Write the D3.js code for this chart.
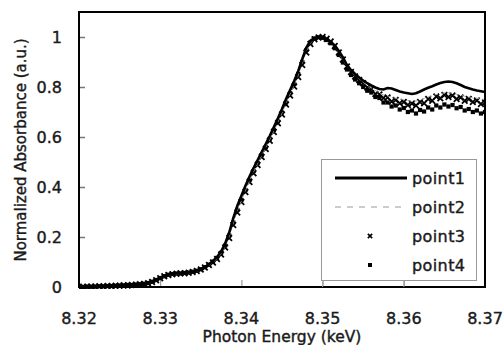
<!DOCTYPE html>
<html>
<head>
<meta charset="utf-8">
<script src="https://cdn.jsdelivr.net/npm/d3@7"></script>
<style>
  html, body { margin: 0; padding: 0; background: #fff; }
  svg { display: block; }
  text { font-family: "DejaVu Sans", sans-serif; fill: #1a1a1a; stroke: #1a1a1a; stroke-width: 0.4px; }
</style>
</head>
<body>
<svg id="chart" width="504" height="345"></svg>
<script>
// ── DATA ────────────────────────────────────────────
// photon energy (keV), 0.5 eV sampling
const energy = [
  8.3200, 8.3205, 8.3210, 8.3215, 8.3220, 8.3225, 8.3230, 8.3235, 8.3240, 8.3245,
  8.3250, 8.3255, 8.3260, 8.3265, 8.3270, 8.3275, 8.3280, 8.3285, 8.3290, 8.3295,
  8.3300, 8.3305, 8.3310, 8.3315, 8.3320, 8.3325, 8.3330, 8.3335, 8.3340, 8.3345,
  8.3350, 8.3355, 8.3360, 8.3365, 8.3370, 8.3375, 8.3380, 8.3385, 8.3390, 8.3395,
  8.3400, 8.3405, 8.3410, 8.3415, 8.3420, 8.3425, 8.3430, 8.3435, 8.3440, 8.3445,
  8.3450, 8.3455, 8.3460, 8.3465, 8.3470, 8.3475, 8.3480, 8.3485, 8.3490, 8.3495,
  8.3500, 8.3505, 8.3510, 8.3515, 8.3520, 8.3525, 8.3530, 8.3535, 8.3540, 8.3545,
  8.3550, 8.3555, 8.3560, 8.3565, 8.3570, 8.3575, 8.3580, 8.3585, 8.3590, 8.3595,
  8.3600, 8.3605, 8.3610, 8.3615, 8.3620, 8.3625, 8.3630, 8.3635, 8.3640, 8.3645,
  8.3650, 8.3655, 8.3660, 8.3665, 8.3670, 8.3675, 8.3680, 8.3685, 8.3690, 8.3695,
  8.3700
];

const point1 = [
  0.000, 0.000, 0.001, 0.001, 0.002, 0.002, 0.003, 0.003, 0.004, 0.005,
  0.006, 0.006, 0.007, 0.008, 0.009, 0.010, 0.012, 0.016, 0.022, 0.029,
  0.037, 0.044, 0.049, 0.052, 0.054, 0.055, 0.056, 0.058, 0.061, 0.066,
  0.072, 0.080, 0.091, 0.104, 0.120, 0.142, 0.174, 0.218, 0.275, 0.325,
  0.365, 0.405, 0.442, 0.476, 0.508, 0.540, 0.572, 0.605, 0.640, 0.675,
  0.712, 0.752, 0.788, 0.824, 0.864, 0.912, 0.958, 0.985, 0.996, 0.999,
  0.996, 0.990, 0.980, 0.966, 0.944, 0.918, 0.888, 0.868, 0.852, 0.838,
  0.826, 0.815, 0.806, 0.798, 0.792, 0.790, 0.796, 0.794, 0.788, 0.782,
  0.778, 0.775, 0.772, 0.775, 0.782, 0.790, 0.797, 0.803, 0.810, 0.816,
  0.820, 0.822, 0.820, 0.815, 0.808, 0.800, 0.795, 0.790, 0.786, 0.783,
  0.780
];

const point2 = [
  0.000, 0.000, 0.001, 0.001, 0.002, 0.002, 0.003, 0.003, 0.004, 0.004,
  0.005, 0.006, 0.007, 0.008, 0.009, 0.010, 0.011, 0.014, 0.019, 0.026,
  0.034, 0.041, 0.047, 0.050, 0.052, 0.053, 0.054, 0.056, 0.059, 0.063,
  0.069, 0.077, 0.087, 0.099, 0.113, 0.133, 0.162, 0.202, 0.255, 0.305,
  0.346, 0.386, 0.425, 0.461, 0.494, 0.526, 0.558, 0.590, 0.625, 0.660,
  0.696, 0.736, 0.772, 0.808, 0.847, 0.895, 0.944, 0.976, 0.993, 1.000,
  0.998, 0.991, 0.979, 0.962, 0.937, 0.908, 0.883, 0.862, 0.846, 0.832,
  0.819, 0.806, 0.796, 0.786, 0.776, 0.768, 0.764, 0.760, 0.755, 0.752,
  0.749, 0.746, 0.743, 0.744, 0.748, 0.754, 0.760, 0.765, 0.770, 0.774,
  0.776, 0.777, 0.775, 0.771, 0.767, 0.763, 0.760, 0.757, 0.755, 0.752,
  0.750
];

const point3 = [
  0.000, 0.001, 0.000, 0.002, 0.001, 0.003, 0.002, 0.004, 0.003, 0.005,
  0.005, 0.007, 0.006, 0.008, 0.009, 0.011, 0.012, 0.015, 0.020, 0.027,
  0.035, 0.043, 0.048, 0.051, 0.053, 0.055, 0.055, 0.057, 0.060, 0.064,
  0.070, 0.078, 0.088, 0.098, 0.112, 0.130, 0.158, 0.196, 0.248, 0.298,
  0.340, 0.380, 0.420, 0.455, 0.488, 0.520, 0.552, 0.585, 0.620, 0.655,
  0.690, 0.730, 0.766, 0.802, 0.840, 0.888, 0.938, 0.972, 0.991, 0.998,
  1.000, 0.993, 0.982, 0.964, 0.938, 0.910, 0.882, 0.860, 0.842, 0.828,
  0.815, 0.798, 0.792, 0.772, 0.770, 0.756, 0.758, 0.742, 0.748, 0.735,
  0.740, 0.728, 0.734, 0.726, 0.740, 0.735, 0.752, 0.745, 0.762, 0.755,
  0.768, 0.760, 0.766, 0.752, 0.758, 0.745, 0.752, 0.740, 0.746, 0.732,
  0.738
];

const point4 = [
  0.001, 0.000, 0.002, 0.001, 0.002, 0.003, 0.003, 0.004, 0.004, 0.005,
  0.006, 0.006, 0.008, 0.008, 0.010, 0.011, 0.013, 0.016, 0.021, 0.028,
  0.036, 0.043, 0.049, 0.052, 0.054, 0.054, 0.056, 0.058, 0.061, 0.065,
  0.071, 0.079, 0.089, 0.101, 0.116, 0.137, 0.166, 0.206, 0.258, 0.308,
  0.348, 0.388, 0.428, 0.464, 0.496, 0.528, 0.560, 0.593, 0.628, 0.663,
  0.698, 0.738, 0.775, 0.812, 0.852, 0.900, 0.948, 0.978, 0.994, 0.999,
  0.997, 0.988, 0.975, 0.955, 0.928, 0.898, 0.870, 0.848, 0.830, 0.815,
  0.800, 0.785, 0.778, 0.760, 0.756, 0.738, 0.738, 0.722, 0.726, 0.710,
  0.716, 0.700, 0.706, 0.694, 0.708, 0.702, 0.718, 0.710, 0.726, 0.718,
  0.730, 0.722, 0.728, 0.715, 0.720, 0.706, 0.712, 0.700, 0.706, 0.694,
  0.700
];

const xTicks = [8.32, 8.33, 8.34, 8.35, 8.36, 8.37];
const yTicks = [0, 0.2, 0.4, 0.6, 0.8, 1];
const seriesNames = ['point1', 'point2', 'point3', 'point4'];

// ── LAYOUT ──────────────────────────────────────────
const svg = d3.select('#chart');
const M = { left: 79, top: 12, right: 485, bottom: 287 };

const x = d3.scaleLinear().domain([8.32, 8.37]).range([M.left, M.right]);
const y = d3.scaleLinear().domain([0, 1.1]).range([M.bottom, M.top]);

svg.append('defs').append('clipPath').attr('id', 'plot-clip')
  .append('rect')
  .attr('x', M.left).attr('y', M.top - 2)
  .attr('width', M.right - M.left).attr('height', M.bottom - M.top + 4);

// ticks (inward)
const xAxis = d3.axisTop(x).tickValues(xTicks).tickSize(7).tickFormat('');
svg.append('g').attr('transform', `translate(0,${M.bottom})`).call(xAxis)
  .call(g => g.select('.domain').remove())
  .call(g => g.selectAll('line').attr('stroke', '#888').attr('stroke-width', 1));

const yAxis = d3.axisRight(y).tickValues(yTicks).tickSize(6).tickFormat('');
svg.append('g').attr('transform', `translate(${M.left},0)`).call(yAxis)
  .call(g => g.select('.domain').remove())
  .call(g => g.selectAll('line').attr('stroke', '#777').attr('stroke-width', 1.5));

// tick labels
svg.append('g').selectAll('text').data(xTicks).join('text')
  .attr('x', d => x(d)).attr('y', 324)
  .attr('text-anchor', 'middle').attr('font-size', '16px')
  .text(d => d3.format('.2f')(d));

svg.append('g').selectAll('text').data(yTicks).join('text')
  .attr('x', 62).attr('y', d => y(d)).attr('dy', '0.36em')
  .attr('text-anchor', 'end').attr('font-size', '16px')
  .text(d => d === 0 || d === 1 ? String(d) : d3.format('.1f')(d));

// axis titles
svg.append('text')
  .attr('x', 282).attr('y', 342)
  .attr('text-anchor', 'middle').attr('font-size', '15.5px')
  .text('Photon Energy (keV)');

svg.append('text')
  .attr('transform', 'translate(26,150) rotate(-90)')
  .attr('text-anchor', 'middle').attr('font-size', '15px')
  .text('Normalized Absorbance (a.u.)');

// ── SERIES ──────────────────────────────────────────
const plot = svg.append('g').attr('clip-path', 'url(#plot-clip)');
const pts = s => energy.map((e, i) => [e, s[i]]);
const line = d3.line().x(d => x(d[0])).y(d => y(d[1]));

plot.append('g').selectAll('rect').data(pts(point4)).join('rect')
  .attr('x', d => x(d[0]) - 2.1).attr('y', d => y(d[1]) - 2.1)
  .attr('width', 4.2).attr('height', 4.2).attr('fill', '#000');

const cross = d3.symbol().type(d3.symbolX).size(22);
plot.append('g').selectAll('path').data(pts(point3)).join('path')
  .attr('transform', d => `translate(${x(d[0])},${y(d[1])})`)
  .attr('d', cross).attr('stroke', '#000').attr('stroke-width', 1.8).attr('fill', 'none');

plot.append('path').datum(pts(point2))
  .attr('d', line).attr('fill', 'none')
  .attr('stroke', '#999').attr('stroke-width', 1).attr('stroke-dasharray', '4,3');

plot.append('path').datum(pts(point1))
  .attr('d', line).attr('fill', 'none')
  .attr('stroke', '#000').attr('stroke-width', 2.6);

// ── LEGEND ──────────────────────────────────────────
const leg = svg.append('g');
leg.append('rect')
  .attr('x', 321.5).attr('y', 159.5).attr('width', 155).attr('height', 121)
  .attr('fill', '#fff').attr('stroke', '#999').attr('stroke-width', 1);

const rowY = d3.scalePoint().domain(seriesNames).range([178, 265]);

leg.append('line')
  .attr('x1', 335).attr('x2', 407).attr('y1', rowY('point1')).attr('y2', rowY('point1'))
  .attr('stroke', '#000').attr('stroke-width', 3);
leg.append('line')
  .attr('x1', 335).attr('x2', 407).attr('y1', rowY('point2')).attr('y2', rowY('point2'))
  .attr('stroke', '#999').attr('stroke-width', 1).attr('stroke-dasharray', '6,6');
leg.append('path')
  .attr('transform', `translate(370,${rowY('point3')})`)
  .attr('d', d3.symbol().type(d3.symbolX).size(14)).attr('stroke', '#000').attr('stroke-width', 1.6).attr('fill', 'none');
leg.append('rect')
  .attr('x', 368).attr('y', rowY('point4') - 2).attr('width', 4).attr('height', 4).attr('fill', '#000');

leg.selectAll('text.lab').data(seriesNames).join('text')
  .attr('class', 'lab')
  .attr('x', 412).attr('y', d => rowY(d)).attr('dy', '0.36em')
  .attr('font-size', '16px').attr('letter-spacing', '0.4px')
  .text(d => d);

// ── FRAME ───────────────────────────────────────────
svg.append('rect')
  .attr('x', M.left).attr('y', M.top)
  .attr('width', M.right - M.left).attr('height', M.bottom - M.top)
  .attr('fill', 'none').attr('stroke', '#000').attr('stroke-width', 2);

// ticks under the legend stay visible like the original
svg.append('g').selectAll('line').data(xTicks.filter(d => d > 8.345 && d < 8.365)).join('line')
  .attr('x1', d => x(d)).attr('x2', d => x(d))
  .attr('y1', 281).attr('y2', M.bottom)
  .attr('stroke', '#aaa').attr('stroke-width', 1);
</script>
</body>
</html>
